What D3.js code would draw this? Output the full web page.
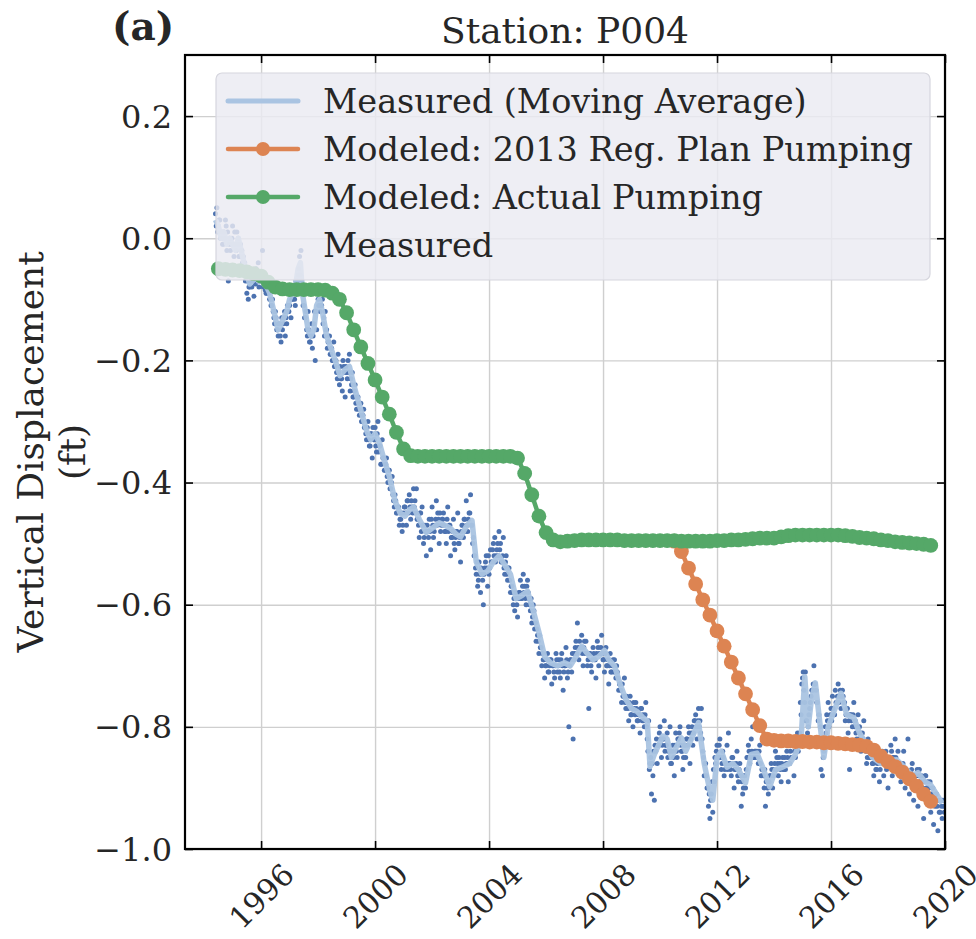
<!DOCTYPE html>
<html><head><meta charset="utf-8">
<script src="https://cdn.jsdelivr.net/npm/d3@7"></script>
<style>
html,body{margin:0;padding:0;background:#fff;}
text{font-family:"DejaVu Serif",serif;fill:#262626;}
</style></head>
<body><svg id="chart" width="976" height="939"></svg>
<script>
// ---------------- DATA ----------------
const xTickYears = [1996, 2000, 2004, 2008, 2012, 2016, 2020];
const yTickValues = [-1.0, -0.8, -0.6, -0.4, -0.2, 0.0, 0.2];
const seriesNames = ["Measured (Moving Average)", "Modeled: 2013 Reg. Plan Pumping", "Modeled: Actual Pumping", "Measured"];

// Modeled series are quarterly
const modelStart = 1994.5, modelStep = 0.25;
const modeledActual = [
 -0.050,-0.051,-0.052,-0.053,-0.055,-0.058,-0.062,-0.072,-0.080,-0.083, // 1994.5-1996.75
 -0.084,-0.084,-0.084,-0.084,-0.084,-0.085,-0.090,-0.100,-0.122,-0.150, // 1997.0-1999.25
 -0.178,-0.205,-0.232,-0.260,-0.288,-0.318,-0.345,-0.356,-0.357,-0.357, // 1999.5-2001.75
 -0.357,-0.357,-0.357,-0.357,-0.357,-0.357,-0.357,-0.357,-0.357,-0.357, // 2002.0-2004.25
 -0.357,-0.357,-0.360,-0.385,-0.420,-0.455,-0.482,-0.494,-0.497,-0.496, // 2004.5-2006.75
 -0.495,-0.494,-0.494,-0.494,-0.494,-0.494,-0.494,-0.495,-0.495,-0.495, // 2007.0-2009.25
 -0.495,-0.495,-0.495,-0.495,-0.495,-0.496,-0.496,-0.496,-0.496,-0.496, // 2009.5-2011.75
 -0.495,-0.495,-0.494,-0.494,-0.493,-0.492,-0.491,-0.491,-0.491,-0.489, // 2012.0-2014.25
 -0.487,-0.486,-0.486,-0.486,-0.486,-0.486,-0.486,-0.486,-0.487,-0.488, // 2014.5-2016.75
 -0.490,-0.491,-0.492,-0.494,-0.495,-0.497,-0.498,-0.499,-0.500,-0.501, // 2017.0-2019.25
 -0.503                                                                 // 2019.5
];
// Reg. plan scenario diverges from 2010.5 onwards
const planStart = 2010.5;
const modeledPlan = [
 -0.496,-0.513,-0.540,-0.566,-0.592,-0.617,-0.643,-0.668,-0.694,-0.720, // 2010.5-2012.75
 -0.746,-0.772,-0.798,-0.820,-0.822,-0.823,-0.823,-0.824,-0.824,-0.825, // 2013.0-2015.25
 -0.825,-0.826,-0.826,-0.827,-0.828,-0.829,-0.830,-0.832,-0.838,-0.848, // 2015.5-2017.75
 -0.857,-0.865,-0.874,-0.885,-0.897,-0.910,-0.922                       // 2018.0-2019.5
];

// Measured moving average [year, value]
const movingAverage = [
 [1994.40,0.03],[1994.50,0.02],[1994.60,0.00],[1994.70,0.01],[1994.80,-0.01],[1994.90,0.00],
 [1995.00,-0.01],[1995.10,-0.02],[1995.20,0.00],[1995.30,-0.02],[1995.40,-0.04],[1995.50,-0.06],
 [1995.60,-0.075],[1995.70,-0.07],[1995.80,-0.06],[1995.90,-0.07],[1996.00,-0.065],[1996.10,-0.075],
 [1996.20,-0.08],[1996.30,-0.09],[1996.40,-0.11],[1996.50,-0.13],[1996.60,-0.15],[1996.70,-0.14],
 [1996.80,-0.13],[1996.90,-0.12],[1997.00,-0.10],[1997.10,-0.09],[1997.20,-0.08],[1997.30,-0.05],
 [1997.38,-0.04],[1997.45,-0.09],[1997.55,-0.12],[1997.65,-0.15],[1997.75,-0.16],[1997.85,-0.15],
 [1997.95,-0.11],[1998.05,-0.10],[1998.15,-0.12],[1998.30,-0.16],[1998.45,-0.18],[1998.60,-0.20],
 [1998.77,-0.225],[1998.95,-0.215],[1999.10,-0.21],[1999.25,-0.24],[1999.40,-0.265],[1999.55,-0.29],
 [1999.70,-0.315],[1999.85,-0.33],[2000.00,-0.32],[2000.15,-0.335],[2000.30,-0.36],[2000.50,-0.39],
 [2000.70,-0.43],[2000.88,-0.45],[2001.05,-0.455],[2001.20,-0.445],[2001.35,-0.44],[2001.55,-0.46],
 [2001.80,-0.482],[2002.00,-0.475],[2002.25,-0.466],[2002.45,-0.47],[2002.65,-0.475],[2002.85,-0.485],
 [2003.00,-0.489],[2003.20,-0.472],[2003.40,-0.462],[2003.55,-0.53],[2003.75,-0.55],[2003.95,-0.545],
 [2004.15,-0.53],[2004.35,-0.52],[2004.55,-0.535],[2004.75,-0.55],[2004.95,-0.59],[2005.15,-0.585],
 [2005.35,-0.578],[2005.55,-0.61],[2005.75,-0.645],[2005.95,-0.685],[2006.15,-0.695],[2006.40,-0.70],
 [2006.65,-0.695],[2006.85,-0.70],[2007.05,-0.685],[2007.25,-0.668],[2007.45,-0.68],[2007.65,-0.69],
 [2007.85,-0.685],[2008.05,-0.675],[2008.20,-0.69],[2008.40,-0.70],[2008.60,-0.73],[2008.80,-0.755],
 [2009.00,-0.77],[2009.20,-0.775],[2009.40,-0.785],[2009.55,-0.79],[2009.65,-0.865],[2009.80,-0.845],
 [2009.95,-0.83],[2010.10,-0.815],[2010.25,-0.82],[2010.40,-0.85],[2010.55,-0.835],[2010.75,-0.818],
 [2010.90,-0.84],[2011.10,-0.82],[2011.35,-0.793],[2011.55,-0.86],[2011.75,-0.905],[2011.85,-0.92],
 [2012.00,-0.85],[2012.15,-0.84],[2012.35,-0.866],[2012.55,-0.86],[2012.75,-0.87],[2013.00,-0.892],
 [2013.20,-0.845],[2013.40,-0.843],[2013.60,-0.866],[2013.85,-0.898],[2014.05,-0.87],[2014.30,-0.866],
 [2014.55,-0.86],[2014.75,-0.845],[2014.95,-0.82],[2015.08,-0.718],[2015.20,-0.80],[2015.30,-0.76],
 [2015.45,-0.728],[2015.60,-0.79],[2015.75,-0.85],[2015.90,-0.80],[2016.10,-0.775],[2016.35,-0.745],
 [2016.55,-0.78],[2016.80,-0.785],[2017.00,-0.81],[2017.20,-0.825],[2017.45,-0.85],[2017.75,-0.86],
 [2018.00,-0.855],[2018.30,-0.854],[2018.55,-0.865],[2018.85,-0.88],[2019.05,-0.875],[2019.30,-0.89],
 [2019.50,-0.895],[2019.70,-0.91],[2019.90,-0.925]
];

// Measured points, two interleaved samplings every 0.05 yr
const measuredStart = 1994.40, measuredStep = 0.05;
const measuredValues = [
 0.04,0.05,0.02,0.03,0.00,-0.01,0.01,0.03,-0.02,-0.07,0.00,-0.01,0.02,-0.03,-0.01,0.01,0.00,-0.03,-0.02,-0.04,
 -0.05,-0.07,-0.09,-0.10,-0.08,-0.07,-0.06,-0.095,-0.075,-0.06,-0.04,-0.07,-0.06,-0.02,-0.07,-0.085,-0.09,-0.08,-0.10,-0.11,
 -0.10,-0.13,-0.12,-0.15,-0.16,-0.14,-0.17,-0.15,-0.13,-0.16,-0.14,-0.12,-0.11,-0.13,-0.10,-0.09,-0.11,-0.08,-0.06,-0.03,
 -0.02,-0.08,-0.11,-0.13,-0.15,-0.12,-0.17,-0.16,-0.18,-0.14,-0.20,-0.15,-0.10,-0.09,-0.11,-0.10,-0.13,-0.12,-0.15,-0.17,
 -0.16,-0.19,-0.20,-0.17,-0.21,-0.22,-0.19,-0.24,-0.23,-0.25,-0.21,-0.26,-0.22,-0.20,-0.19,-0.23,-0.22,-0.26,-0.24,-0.28,
 -0.26,-0.29,-0.27,-0.30,-0.28,-0.31,-0.33,-0.30,-0.34,-0.32,-0.36,-0.33,-0.31,-0.35,-0.30,-0.34,-0.37,-0.33,-0.36,-0.38,
 -0.36,-0.40,-0.38,-0.41,-0.39,-0.43,-0.42,-0.45,-0.44,-0.47,-0.46,-0.48,-0.45,-0.44,-0.47,-0.43,-0.42,-0.46,-0.44,-0.41,
 -0.43,-0.41,-0.46,-0.49,-0.45,-0.44,-0.50,-0.47,-0.52,-0.48,-0.46,-0.51,-0.44,-0.49,-0.47,-0.43,-0.45,-0.50,-0.48,-0.46,
 -0.45,-0.48,-0.50,-0.44,-0.47,-0.52,-0.49,-0.46,-0.51,-0.48,-0.45,-0.50,-0.53,-0.47,-0.49,-0.46,-0.43,-0.48,-0.45,-0.42,
 -0.47,-0.49,-0.52,-0.55,-0.57,-0.53,-0.58,-0.55,-0.60,-0.54,-0.52,-0.57,-0.55,-0.51,-0.53,-0.50,-0.49,-0.52,-0.50,-0.48,
 -0.50,-0.53,-0.49,-0.55,-0.52,-0.56,-0.54,-0.58,-0.57,-0.60,-0.61,-0.59,-0.62,-0.58,-0.56,-0.59,-0.55,-0.57,-0.60,-0.56,
 -0.59,-0.61,-0.63,-0.60,-0.64,-0.66,-0.65,-0.68,-0.67,-0.70,-0.69,-0.72,-0.70,-0.68,-0.71,-0.69,-0.73,-0.70,-0.72,-0.68,
 -0.71,-0.69,-0.72,-0.68,-0.74,-0.70,-0.67,-0.72,-0.80,-0.69,-0.71,-0.82,-0.68,-0.66,-0.63,-0.69,-0.67,-0.65,-0.70,-0.66,
 -0.66,-0.70,-0.77,-0.68,-0.71,-0.67,-0.69,-0.72,-0.66,-0.70,-0.68,-0.65,-0.69,-0.71,-0.67,-0.70,-0.73,-0.68,-0.71,-0.69,
 -0.69,-0.72,-0.71,-0.74,-0.73,-0.76,-0.75,-0.72,-0.77,-0.76,-0.79,-0.75,-0.78,-0.80,-0.77,-0.76,-0.79,-0.78,-0.81,-0.77,
 -0.78,-0.80,-0.76,-0.82,-0.79,-0.86,-0.91,-0.88,-0.92,-0.84,-0.86,-0.83,-0.80,-0.85,-0.82,-0.79,-0.83,-0.81,-0.84,-0.80,
 -0.86,-0.83,-0.88,-0.81,-0.85,-0.82,-0.80,-0.84,-0.87,-0.83,-0.85,-0.82,-0.80,-0.86,-0.81,-0.83,-0.79,-0.78,-0.82,-0.77,
 -0.79,-0.77,-0.84,-0.88,-0.86,-0.90,-0.93,-0.95,-0.91,-0.94,-0.89,-0.86,-0.83,-0.85,-0.82,-0.87,-0.84,-0.88,-0.86,-0.83,
 -0.81,-0.86,-0.88,-0.85,-0.90,-0.87,-0.84,-0.89,-0.86,-0.93,-0.91,-0.88,-0.90,-0.85,-0.83,-0.86,-0.82,-0.80,-0.85,-0.84,
 -0.84,-0.86,-0.83,-0.88,-0.87,-0.90,-0.93,-0.89,-0.91,-0.88,-0.86,-0.90,-0.87,-0.84,-0.85,-0.88,-0.86,-0.89,-0.85,-0.87,
 -0.87,-0.84,-0.89,-0.86,-0.85,-0.83,-0.88,-0.85,-0.82,-0.84,-0.81,-0.78,-0.72,-0.74,-0.71,-0.79,-0.80,-0.77,-0.75,-0.74,
 -0.70,-0.73,-0.76,-0.79,-0.82,-0.87,-0.88,-0.84,-0.80,-0.78,-0.76,-0.79,-0.77,-0.75,-0.78,-0.74,-0.76,-0.73,-0.75,-0.77,
 -0.74,-0.76,-0.79,-0.77,-0.81,-0.87,-0.78,-0.80,-0.76,-0.79,-0.82,-0.78,-0.80,-0.84,-0.81,-0.79,-0.83,-0.86,-0.82,-0.85,
 -0.83,-0.86,-0.88,-0.84,-0.87,-0.85,-0.89,-0.86,-0.84,-0.88,-0.85,-0.87,-0.90,-0.86,-0.83,-0.88,-0.85,-0.82,-0.87,-0.84,
 -0.86,-0.89,-0.87,-0.84,-0.90,-0.88,-0.82,-0.91,-0.89,-0.86,-0.92,-0.88,-0.90,-0.93,-0.87,-0.89,-0.91,-0.95,-0.88,-0.90,
 -0.89,-0.92,-0.94,-0.90,-0.96,-0.93,-0.91,-0.97,-0.94,-0.92,-0.95,-0.93
];
const measuredStartB = 1994.425;
const measuredValuesB = [
 0.02,0.01,0.03,0.00,0.01,-0.01,0.00,0.02,0.01,-0.01,-0.02,0.00,-0.01,0.01,-0.02,-0.01,-0.03,-0.01,-0.02,-0.03,
 -0.04,-0.06,-0.07,-0.08,-0.07,-0.08,-0.06,-0.07,-0.05,-0.07,-0.08,-0.06,-0.07,-0.08,-0.07,-0.09,-0.08,-0.09,-0.10,-0.11,
 -0.12,-0.14,-0.13,-0.15,-0.14,-0.16,-0.13,-0.14,-0.12,-0.13,-0.11,-0.12,-0.09,-0.10,-0.08,-0.10,-0.07,-0.07,-0.05,-0.06,
 -0.07,-0.11,-0.13,-0.12,-0.16,-0.15,-0.17,-0.14,-0.16,-0.12,-0.12,-0.09,-0.11,-0.12,-0.11,-0.14,-0.16,-0.15,-0.18,-0.17,
 -0.19,-0.18,-0.20,-0.21,-0.20,-0.23,-0.22,-0.21,-0.23,-0.20,-0.22,-0.21,-0.23,-0.22,-0.25,-0.24,-0.26,-0.25,-0.27,-0.26,
 -0.28,-0.27,-0.30,-0.29,-0.31,-0.32,-0.31,-0.33,-0.34,-0.32,-0.31,-0.33,-0.34,-0.32,-0.35,-0.34,-0.37,-0.36,-0.38,-0.37,
 -0.39,-0.38,-0.41,-0.40,-0.42,-0.44,-0.43,-0.45,-0.44,-0.46,-0.45,-0.47,-0.44,-0.45,-0.43,-0.45,-0.44,-0.43,-0.45,-0.44,
 -0.45,-0.46,-0.47,-0.45,-0.48,-0.47,-0.49,-0.48,-0.47,-0.49,-0.48,-0.46,-0.47,-0.48,-0.46,-0.47,-0.46,-0.45,-0.47,-0.46,
 -0.47,-0.48,-0.46,-0.48,-0.47,-0.49,-0.48,-0.50,-0.49,-0.48,-0.50,-0.49,-0.48,-0.47,-0.46,-0.48,-0.47,-0.46,-0.45,-0.47,
 -0.50,-0.52,-0.54,-0.53,-0.56,-0.55,-0.54,-0.56,-0.55,-0.53,-0.54,-0.52,-0.54,-0.53,-0.51,-0.52,-0.53,-0.51,-0.52,-0.51,
 -0.53,-0.52,-0.54,-0.53,-0.55,-0.54,-0.56,-0.57,-0.58,-0.59,-0.58,-0.60,-0.59,-0.58,-0.59,-0.57,-0.58,-0.59,-0.57,-0.58,
 -0.60,-0.59,-0.62,-0.61,-0.63,-0.64,-0.66,-0.65,-0.67,-0.68,-0.69,-0.70,-0.69,-0.71,-0.70,-0.69,-0.70,-0.71,-0.70,-0.69,
 -0.70,-0.71,-0.69,-0.70,-0.71,-0.70,-0.69,-0.71,-0.70,-0.69,-0.68,-0.69,-0.67,-0.68,-0.67,-0.66,-0.67,-0.68,-0.67,-0.68,
 -0.68,-0.69,-0.68,-0.70,-0.69,-0.68,-0.69,-0.68,-0.67,-0.68,-0.67,-0.68,-0.69,-0.68,-0.70,-0.69,-0.70,-0.71,-0.70,-0.71,
 -0.71,-0.70,-0.72,-0.73,-0.74,-0.73,-0.75,-0.76,-0.75,-0.77,-0.76,-0.78,-0.77,-0.76,-0.78,-0.77,-0.79,-0.78,-0.77,-0.79,
 -0.79,-0.78,-0.80,-0.84,-0.87,-0.85,-0.86,-0.84,-0.83,-0.82,-0.83,-0.81,-0.82,-0.83,-0.82,-0.84,-0.83,-0.85,-0.84,-0.86,
 -0.84,-0.85,-0.83,-0.84,-0.82,-0.81,-0.83,-0.84,-0.85,-0.83,-0.82,-0.83,-0.81,-0.82,-0.80,-0.81,-0.79,-0.80,-0.79,-0.80,
 -0.81,-0.82,-0.85,-0.86,-0.88,-0.90,-0.91,-0.92,-0.89,-0.87,-0.85,-0.84,-0.85,-0.83,-0.85,-0.86,-0.85,-0.87,-0.86,-0.87,
 -0.86,-0.87,-0.85,-0.86,-0.87,-0.86,-0.88,-0.87,-0.88,-0.89,-0.90,-0.88,-0.87,-0.85,-0.84,-0.85,-0.84,-0.85,-0.84,-0.85,
 -0.85,-0.84,-0.86,-0.87,-0.88,-0.87,-0.89,-0.90,-0.89,-0.88,-0.87,-0.88,-0.86,-0.87,-0.86,-0.85,-0.87,-0.86,-0.87,-0.85,
 -0.86,-0.85,-0.86,-0.84,-0.85,-0.83,-0.84,-0.82,-0.81,-0.82,-0.76,-0.73,-0.71,-0.76,-0.79,-0.81,-0.78,-0.76,-0.74,-0.73,
 -0.73,-0.74,-0.76,-0.78,-0.80,-0.83,-0.85,-0.83,-0.81,-0.79,-0.80,-0.78,-0.79,-0.77,-0.78,-0.76,-0.75,-0.76,-0.74,-0.75,
 -0.75,-0.76,-0.78,-0.77,-0.79,-0.78,-0.79,-0.78,-0.80,-0.81,-0.80,-0.82,-0.81,-0.83,-0.82,-0.83,-0.84,-0.85,-0.84,-0.85,
 -0.85,-0.86,-0.85,-0.87,-0.86,-0.85,-0.87,-0.86,-0.85,-0.86,-0.84,-0.86,-0.85,-0.86,-0.84,-0.85,-0.86,-0.85,-0.86,-0.87,
 -0.86,-0.87,-0.86,-0.88,-0.87,-0.88,-0.89,-0.88,-0.87,-0.88,-0.89,-0.88,-0.87,-0.88,-0.89,-0.88,-0.90,-0.89,-0.88,-0.90,
 -0.90,-0.89,-0.91,-0.90,-0.92,-0.91,-0.93,-0.92,-0.94,-0.93,-0.92,-0.94
];

const colors = {ma:"#aac4e2", plan:"#dd8452", actual:"#55a868", measured:"#4c72b0"};

// ---------------- CHART ----------------
const svg = d3.select("#chart");
const L = 185, R = 945, T = 55, B = 849;
const x = d3.scaleLinear().domain([1993.33, 2020]).range([L, R]);
const y = d3.scaleLinear().domain([-1.0, 0.30]).range([B, T]);

svg.append("defs").append("clipPath").attr("id","clip")
  .append("rect").attr("x",L).attr("y",T).attr("width",R-L).attr("height",B-T);

// grid
const grid = svg.append("g").attr("class","grid");
grid.append("g").attr("transform",`translate(0,${B})`)
  .call(d3.axisBottom(x).tickValues(xTickYears).tickSize(-(B-T)).tickFormat(""))
  .call(g=>g.select(".domain").remove());
grid.append("g").attr("transform",`translate(${L},0)`)
  .call(d3.axisLeft(y).tickValues(yTickValues).tickSize(-(R-L)).tickFormat(""))
  .call(g=>g.select(".domain").remove());
grid.selectAll("line").attr("stroke","#cfcfcf").attr("stroke-width",1.4);

const plot = svg.append("g").attr("clip-path","url(#clip)");

// measured scatter
const measured = measuredValues.map((v,i)=>[measuredStart + i*measuredStep, v])
  .concat(measuredValuesB.map((v,i)=>[measuredStartB + i*measuredStep, v]));
plot.append("g").selectAll("circle").data(measured).join("circle")
  .attr("cx",d=>x(d[0])).attr("cy",d=>y(d[1])).attr("r",2.5).attr("fill",colors.measured);

// moving average
const line = d3.line().x(d=>x(d[0])).y(d=>y(d[1]));
plot.append("path").datum(movingAverage).attr("d",line)
  .attr("fill","none").attr("stroke",colors.ma).attr("stroke-width",5.5).attr("stroke-linejoin","round").attr("opacity",0.95);

function modelSeries(vals, start, color){
  const pts = vals.map((v,i)=>[start + i*modelStep, v]);
  const g = plot.append("g");
  g.append("path").datum(pts).attr("d",line).attr("fill","none").attr("stroke",color).attr("stroke-width",4.5);
  g.selectAll("circle").data(pts).join("circle")
    .attr("cx",d=>x(d[0])).attr("cy",d=>y(d[1])).attr("r",7.4).attr("fill",color);
}
modelSeries(modeledPlan, planStart, colors.plan);
modelSeries(modeledActual, modelStart, colors.actual);

// axes (inward ticks on all sides)
const tickLen = 8;
const ax = svg.append("g");
const bottom = ax.append("g").attr("transform",`translate(0,${B})`)
  .call(d3.axisBottom(x).tickValues(xTickYears).tickSizeInner(-tickLen).tickSizeOuter(0).tickFormat(d3.format("d")));
bottom.selectAll("text")
  .attr("x",0).attr("y",0).attr("dy",null)
  .attr("transform","translate(0,47) rotate(-45)")
  .attr("text-anchor","middle").attr("dominant-baseline","central")
  .style("font-size","30px");
const left = ax.append("g").attr("transform",`translate(${L},0)`)
  .call(d3.axisLeft(y).tickValues(yTickValues).tickSizeInner(-tickLen).tickSizeOuter(0).tickPadding(13).tickFormat(d3.format(".1f")));
left.selectAll("text").style("font-size","32px").attr("dominant-baseline","central").attr("dy",null);
ax.append("g").attr("transform",`translate(0,${T})`)
  .call(d3.axisTop(x).tickValues(xTickYears).tickSizeInner(-tickLen).tickSizeOuter(0).tickFormat(""));
ax.append("g").attr("transform",`translate(${R},0)`)
  .call(d3.axisRight(y).tickValues(yTickValues).tickSizeInner(-tickLen).tickSizeOuter(0).tickFormat(""));
ax.selectAll(".domain").remove();
ax.selectAll(".tick line").attr("stroke","#000").attr("stroke-width",1.6);
svg.append("rect").attr("x",L).attr("y",T).attr("width",R-L).attr("height",B-T)
  .attr("fill","none").attr("stroke","#000").attr("stroke-width",2.2);

// legend
const lg = svg.append("g");
lg.append("rect").attr("x",216).attr("y",73).attr("width",714).attr("height",207).attr("rx",6)
  .attr("fill","#eaeaf2").attr("fill-opacity",0.82).attr("stroke","#d6d6de").attr("stroke-width",1.2);
const legendColors = [colors.ma, colors.plan, colors.actual, null];
seriesNames.forEach((name,i)=>{
  const cy = 101 + i*48;
  const c = legendColors[i];
  if (c){
    lg.append("line").attr("x1",228).attr("x2",298).attr("y1",cy).attr("y2",cy)
      .attr("stroke",c).attr("stroke-width", i===0?5:4.5).attr("stroke-linecap","round");
    if (i>0) lg.append("circle").attr("cx",263).attr("cy",cy).attr("r",7).attr("fill",c);
  }
  lg.append("text").attr("x",323).attr("y",cy).attr("dominant-baseline","central")
    .style("font-size","33.5px").text(name);
});

// title & labels
svg.append("text").attr("x",(L+R)/2).attr("y",30).attr("text-anchor","middle")
  .attr("dominant-baseline","central").style("font-size","36px").text("Station: P004");
svg.append("text").attr("x",112).attr("y",26).attr("dominant-baseline","central")
  .style("font-size","39px").style("font-weight","bold").text("(a)");
const yl = svg.append("text").attr("transform",`translate(0,452) rotate(-90)`).attr("text-anchor","middle")
  .style("font-size","36px");
yl.append("tspan").attr("x",0).attr("y",30).attr("dominant-baseline","central").text("Vertical Displacement");
yl.append("tspan").attr("x",0).attr("y",72).attr("dominant-baseline","central").text("(ft)");
</script></body></html>
